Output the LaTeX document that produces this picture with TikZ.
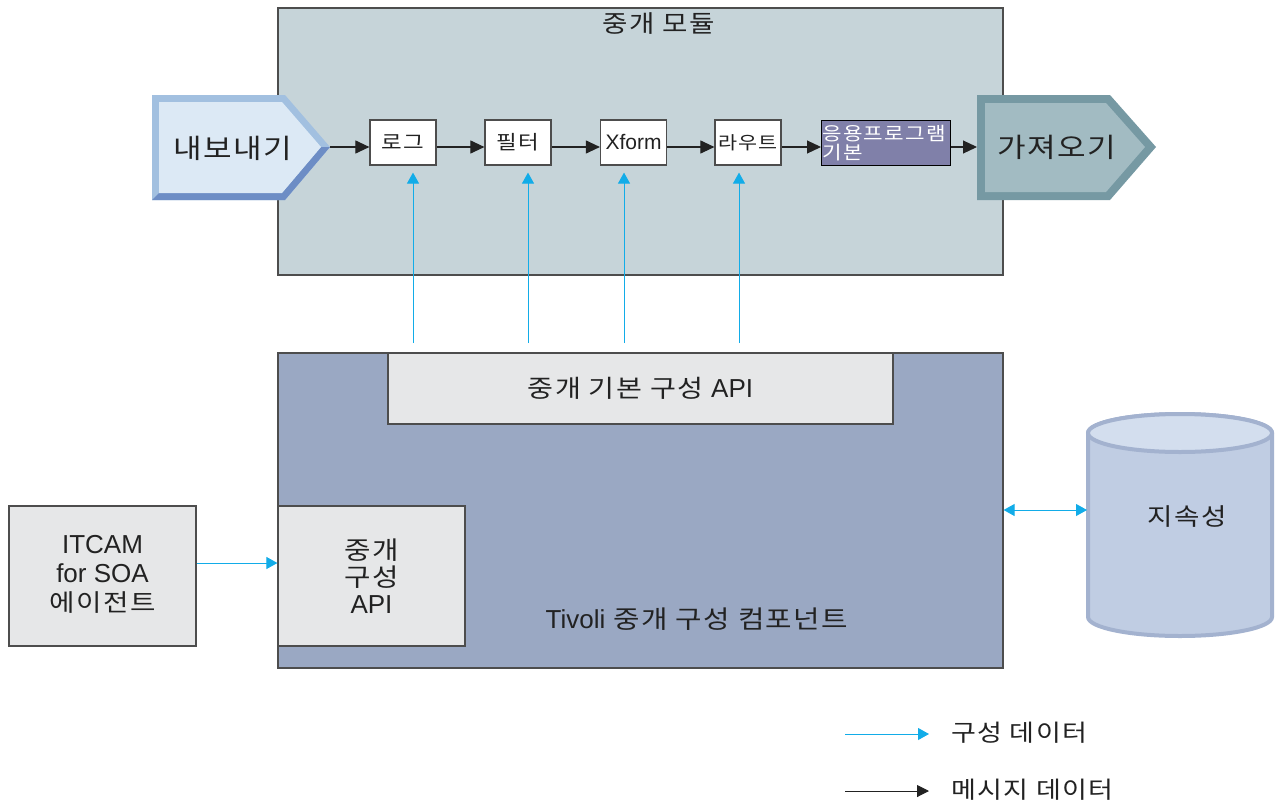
\documentclass[tikz,border=0pt]{standalone}
\usepackage{fontspec}
\setmainfont{Liberation Sans}
\newfontfamily\kr{Noto Sans CJK KR}[FakeStretch=1.15, LetterSpace=6]
\usetikzlibrary{arrows.meta}
\definecolor{modfill}{HTML}{C6D4D9}
\definecolor{tivfill}{HTML}{9AA8C3}
\definecolor{greyfill}{HTML}{E6E7E8}
\definecolor{appfill}{HTML}{8080A9}
\definecolor{expface}{HTML}{DCE9F5}
\definecolor{explight}{HTML}{A2C0E0}
\definecolor{expdark}{HTML}{6D8DC5}
\definecolor{impface}{HTML}{A2BBC2}
\definecolor{impedge}{HTML}{7699A3}
\definecolor{cylbody}{HTML}{C0CDE3}
\definecolor{cyltop}{HTML}{D3DEEE}
\definecolor{cyledge}{HTML}{A3B2CF}
\definecolor{cfgcol}{HTML}{12ACE8}
\definecolor{edgecol}{HTML}{4D4D4D}
\definecolor{txtcol}{HTML}{222222}
\begin{document}
\begin{tikzpicture}[x=1pt,y=-1pt,
  every node/.style={text=txtcol},
  frame/.style={draw=edgecol, line width=1.2pt},
  smallbox/.style={frame, fill=white, minimum width=66pt, minimum height=45pt, inner sep=0pt, font=\kr\fontsize{19.5}{21}\selectfont},
  greybox/.style={frame, fill=greyfill, inner sep=0pt, align=center},
  msg/.style={draw=txtcol, line width=1.1pt, -{Triangle[length=14pt,width=13pt]}},
  cfg/.style={draw=cfgcol, line width=1pt, -{Triangle[length=11pt,width=12pt]}},
  cfgboth/.style={draw=cfgcol, line width=1pt, {Triangle[length=11pt,width=12pt]}-{Triangle[length=11pt,width=12pt]}},
  legtxt/.style={anchor=west, inner sep=0pt, font=\kr\fontsize{23.5}{26}\selectfont}
]
\useasboundingbox (0,0) rectangle (1276,803);

% mediation module
\node[frame, fill=modfill, minimum width=725pt, minimum height=267pt, inner sep=0pt] (mod) at (640.5,141.5) {};
\node[font=\kr\fontsize{24}{26}\selectfont] (modtitle) at (659,24) {중개 모듈};

% export pentagon
\fill[explight] (152,95) -- (285,95) -- (330,147) -- (285,200) -- (152,200) -- cycle;
\fill[expdark] (330,147) -- (285,200) -- (152,200) -- (159,193) -- (282,193) -- (321,147) -- cycle;
\fill[expface] (159,102) -- (282,102) -- (321,147) -- (282,193) -- (159,193) -- cycle;
\node[font=\kr\fontsize{27}{29}\selectfont] (exp) at (233,148) {내보내기};
\coordinate (exptip) at (330,147);

% import pentagon
\fill[impedge] (977,95) -- (1110,95) -- (1156,147) -- (1110,200) -- (977,200) -- cycle;
\fill[impface] (985,103) -- (1106,103) -- (1145,147) -- (1106,192) -- (985,192) -- cycle;
\node[font=\kr\fontsize{27}{29}\selectfont] (imp) at (1057,147) {가져오기};
\coordinate (imptail) at (977,147);

% primitive boxes
\node[smallbox] (log) at (403,142.5) {로그};
\node[smallbox] (flt) at (518,142.5) {필터};
\node[smallbox, font=\fontsize{21}{23}\selectfont] (xf) at (633.5,142.5) {Xform};
\node[smallbox, font=\kr\fontsize{18}{20}\selectfont] (rt) at (748,142.5) {라우트};
\node[frame, draw=black, fill=appfill, minimum width=129pt, minimum height=45pt, inner sep=1pt, align=left, anchor=north west,
  font=\kr\fontsize{18.5}{20}\selectfont, text width=127pt] (app) at (821,120) {\textcolor{white}{응용프로그램}\\[-1pt]\textcolor{white}{기본}};

\draw[msg] (exptip) -- (exptip -| log.west);
\draw[msg] (log.east |- exptip) -- (flt.west |- exptip);
\draw[msg] (flt.east |- exptip) -- (xf.west |- exptip);
\draw[msg] (xf.east |- exptip) -- (rt.west |- exptip);
\draw[msg] (rt.east |- exptip) -- (app.west |- exptip);
\draw[msg] (app.east |- imptail) -- (imptail);

% Tivoli component
\node[frame, fill=tivfill, minimum width=725pt, minimum height=315pt, inner sep=0pt] (tiv) at (640.5,510.5) {};
\node[greybox, minimum width=505pt, minimum height=71pt, font=\kr\fontsize{24.5}{27}\selectfont] (bapi) at (640.5,388.5) {중개 기본 구성 {\normalfont\fontsize{26}{27}\selectfont API}};
\node[greybox, minimum width=187pt, minimum height=140pt, font=\kr\fontsize{25}{27}\selectfont] (capi) at (371.5,576) {};
\node[align=center, font=\kr\fontsize{25}{27}\selectfont] (capitxt) at (capi.center) {중개\\구성\\{\normalfont\fontsize{26}{27}\selectfont API}};
\node[font=\kr\fontsize{25}{27}\selectfont] (tivlbl) at (697,619) {{\normalfont\fontsize{26}{27}\selectfont Tivoli} 중개 구성 컴포넌트};

% config arrows from base API
\coordinate (c1) at (413,343);
\coordinate (c2) at (528,343);
\coordinate (c3) at (624,343);
\coordinate (c4) at (739,343);
\draw[cfg, shorten >=7pt] (c1) -- (c1 |- log.south);
\draw[cfg, shorten >=7pt] (c2) -- (c2 |- flt.south);
\draw[cfg, shorten >=7pt] (c3) -- (c3 |- xf.south);
\draw[cfg, shorten >=7pt] (c4) -- (c4 |- rt.south);

% ITCAM
\node[greybox, minimum width=187pt, minimum height=140pt] (itcam) at (102.5,576) {};
\node[align=center, font=\fontsize{26}{29}\selectfont] (itcamtxt) at (102.5,574) {ITCAM\\for SOA\\{\kr\fontsize{24}{29}\selectfont 에이전트}};
\draw[cfg] ([yshift=13pt]itcam.east) -- ([yshift=13pt]capi.west);

% persistence cylinder
\filldraw[fill=cylbody, draw=cyledge, line width=4pt] (1088,433) -- (1088,617) arc[start angle=180, end angle=360, x radius=92pt, y radius=19pt] -- (1272,433) arc[start angle=0, end angle=180, x radius=92pt, y radius=19pt] -- cycle;
\filldraw[fill=cyltop, draw=cyledge, line width=4pt] (1180,433) ellipse [x radius=92pt, y radius=19pt];
\node[font=\kr\fontsize{24}{27}\selectfont] (db) at (1187,517) {지속성};
\coordinate (dbleft) at (1087,510);
\draw[cfgboth] (tiv.east |- dbleft) -- (dbleft);

% legend
\node[legtxt] (leg1) at (951,733) {구성 데이터};
\node[legtxt] (leg2) at (951,790) {메시지 데이터};
\coordinate (l1) at (845,734);
\coordinate (l2) at (845,791);
\draw[cfg, shorten >=22pt] (l1) -- (l1 -| leg1.west);
\draw[draw=txtcol, line width=1pt, -{Triangle[length=12pt,width=12pt]}, shorten >=22pt] (l2) -- (l2 -| leg2.west);
\end{tikzpicture}
\end{document}
